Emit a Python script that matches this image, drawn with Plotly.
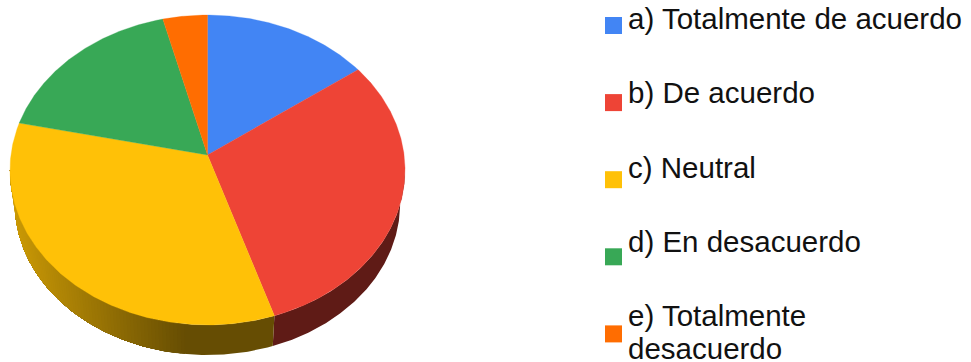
import math
import plotly.graph_objects as go

# Survey answers, as a share of responses
categories = ["a) Totalmente de acuerdo", "b) De acuerdo", "c) Neutral",
              "d) En desacuerdo", "e) Totalmente\ndesacuerdo"]
values = [15.0, 30.0, 33.4, 17.6, 4.0]
colors = ["#4285F4", "#EE4436", "#FFC107", "#38A856", "#FF6D01"]

# Tilted-disc projection, in page pixels
CX, CY = 207.5, 155.0
RX, RY = 196.6, 153.5
TILT = 0.0968
# The underside is a slightly smaller disc, dropped below the top face
FOOT_SCALE = 0.975
FOOT_DROP = 34.3


def rim(theta):
    """Project a clockwise-from-top angle (degrees) onto the disc rim."""
    t = math.radians(theta)
    d = 1 + TILT * math.cos(t)
    return CX + RX * math.sin(t) / d, CY - RY * math.cos(t) / d


def foot(theta):
    x, y = rim(theta)
    return CX + FOOT_SCALE * (x - CX), CY + FOOT_DROP + FOOT_SCALE * (y - CY)


def shade(x):
    """Side-wall brightness: lit on the far left, flat dark from mid-disc on."""
    return 0.40 if x >= 185 else round(0.40 + (185 - x) / 175 * 0.40, 3)


def darker(hex_color, s):
    r, g, b = (int(hex_color[i:i + 2], 16) for i in (1, 3, 5))
    return f"rgb({r * s:.0f},{g * s:.0f},{b * s:.0f})"


def polygon(xs, ys, color, lw=0.0):
    return go.Scatter(x=xs, y=ys, mode="lines", fill="toself", fillcolor=color,
                      line=dict(color=color, width=lw), hoverinfo="skip",
                      showlegend=False)


def wall(lo, hi, color):
    """Side wall between two angles, as one closed band."""
    n = max(2, int((hi - lo) * 2))
    angles = [lo + (hi - lo) * j / n for j in range(n + 1)]
    top = [rim(a) for a in angles]
    low = [foot(a) for a in reversed(angles)]
    pts = top + low + top[:1]
    return polygon([p[0] for p in pts], [p[1] for p in pts], color)


fig = go.Figure()

total = sum(values)
edges = [0.0]
for v in values:
    edges.append(edges[-1] + v / total * 360)

# Side wall first, so the top face paints over its upper edge.
# Each band runs on to the end of its slice and the next one paints over it,
# which keeps the shading steps free of gaps.
WALL_START, WALL_END = 95.6, 264.4
for i, color in enumerate(colors):
    lo, hi = max(edges[i], WALL_START), min(edges[i + 1], WALL_END)
    if hi <= lo:
        continue
    n = max(1, int((hi - lo) / 1.0))
    last = None
    for j in range(n):
        a0 = lo + (hi - lo) * j / n
        a1 = lo + (hi - lo) * (j + 1) / n
        s = shade((rim(a0)[0] + rim(a1)[0]) / 2)
        if s != last:
            fig.add_trace(wall(a0, hi, darker(color, s)))
            last = s

# Top face
for i, color in enumerate(colors):
    lo, hi = edges[i], edges[i + 1]
    n = max(2, int((hi - lo) * 2))
    pts = [rim(lo + (hi - lo) * j / n) for j in range(n + 1)]
    fig.add_trace(polygon([CX] + [p[0] for p in pts] + [CX],
                          [CY] + [p[1] for p in pts] + [CY], color, lw=0.3))

# Key down the right-hand side
for i, (name, color) in enumerate(zip(categories, colors)):
    y = 25.5 + 77.1 * i
    fig.add_trace(go.Scatter(x=[613.5], y=[y], mode="markers", hoverinfo="skip",
                             marker=dict(symbol="square", size=17, color=color,
                                         line=dict(width=0)),
                             showlegend=False))
    first_line = 18.5 + 74.3 * i
    for k, line in enumerate(name.split("\n")):
        fig.add_annotation(x=626, y=first_line + 33 * k, text=line, showarrow=False,
                           xanchor="left", yanchor="middle", align="left",
                           font=dict(family="Liberation Sans", size=29.5, color="#111111"))

fig.update_layout(
    width=971, height=362, margin=dict(l=0, r=0, t=0, b=0),
    paper_bgcolor="white", plot_bgcolor="white", showlegend=False,
    xaxis=dict(range=[0, 971], visible=False, fixedrange=True),
    yaxis=dict(range=[362, 0], visible=False, fixedrange=True),
)
fig.write_html("out.html", config={"displayModeBar": False})
